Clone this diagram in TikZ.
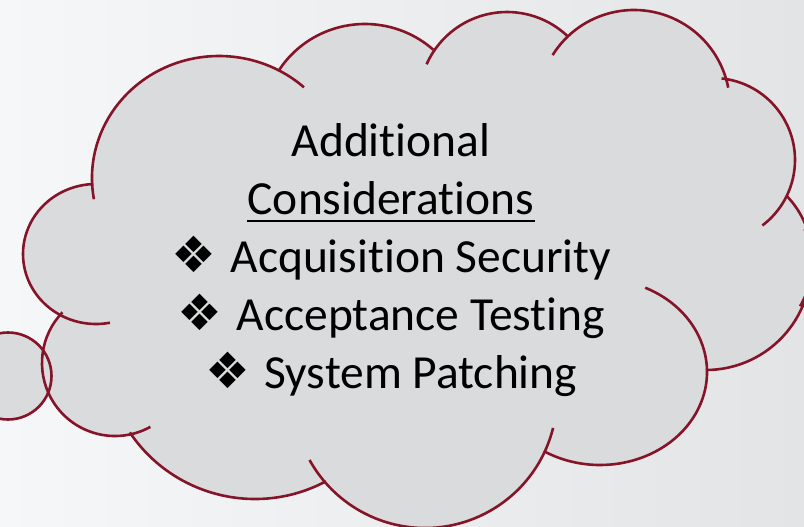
\documentclass[tikz,border=0pt]{standalone}
\usepackage{fontspec}
\setmainfont[Ligatures=NoCommon]{Carlito}
\newfontfamily\symfont{DejaVu Sans}
\definecolor{cloudline}{RGB}{134,20,40}
\definecolor{cloudfill}{RGB}{217,219,220}
\definecolor{bgleft}{RGB}{246,247,249}
\definecolor{bgright}{RGB}{227,228,229}

% one lobe of the cloud: centre x, centre y, x radius, y radius, start angle, end angle
\newcommand\cloudarc[6]{%
  \draw[cloudedge] ([shift={(#5:#3 and #4)}]#1,#2)
    arc[start angle=#5,end angle=#6,x radius=#3,y radius=#4];}
% bullet sign in front of each item
\newcommand\itemsign{{\fontsize{50}{50}\symfont ❖}\hspace{14pt}}

\begin{document}
\begin{tikzpicture}[x=1pt,y=-1pt,
  cloudedge/.style={draw=cloudline,line width=2.6pt},
  cloudtext/.style={font=\fontsize{47.5}{57}\selectfont,inner sep=0pt,anchor=base}]
\useasboundingbox (0,0) rectangle (804,527);
\shade[left color=bgleft,right color=bgright] (0,0) rectangle (804,527);

\begin{scope}
\clip (0,0) rectangle (804,527);
% body of the cloud: the lobes and the region between their centres
\foreach \cx/\cy/\rx/\ry in {96/254/73/70, 219/178/127/122, 365/124/102/100,
    507/100/88/88, 634/106/96/96, 713/160/82/82, 720/260/92.5/92.5,
    706/265/105/105, 600/372/107/93, 425/396/132/132, 255/348/151/151,
    115/363/73/73}
  \fill[cloudfill] (\cx,\cy) ellipse[x radius=\rx,y radius=\ry];
\fill[cloudfill] (96,254) -- (219,178) -- (365,124) -- (507,100) -- (634,106)
  -- (713,160) -- (720,260) -- (706,265) -- (600,372) -- (425,396) -- (255,348)
  -- (115,363) -- cycle;
\fill[cloudfill] (8,376) circle[radius=43.5];

% outline, lobe by lobe, with the short inner ends
\cloudarc{96}{254}{73}{70}{79}{268}
\cloudarc{219}{178}{127}{122}{170}{312}
\cloudarc{365}{124}{102}{100}{212}{312}
\cloudarc{507}{100}{88}{88}{204}{314}
\cloudarc{634}{106}{96}{96}{212}{349}
\cloudarc{713}{160}{82}{82}{276}{413}
\cloudarc{720}{260}{92.5}{92.5}{316}{390}
\cloudarc{706}{265}{105}{105}{-20}{90}
\cloudarc{600}{372}{107}{93}{-65}{121.5}
\cloudarc{425}{396}{132}{132}{14}{151}
\cloudarc{255}{348}{151}{151}{62}{146}
\cloudarc{115}{363}{73}{73}{61}{224}
\draw[cloudedge] (8,376) circle[radius=43.5];
\end{scope}

% text
\node[cloudtext] (head1) at (391,157) {Additional};
\node[cloudtext] (head2) at (391,214) {Considerations};
\draw[line width=2.4pt] ([yshift=-7pt]head2.base west) -- ([yshift=-7pt]head2.base east);
\node[cloudtext] (item1) at (391.5,272) {\itemsign Acquisition Security};
\node[cloudtext] (item2) at (391.5,330) {\itemsign Acceptance Testing};
\node[cloudtext] (item3) at (391.5,388) {\itemsign System Patching};
\end{tikzpicture}
\end{document}
